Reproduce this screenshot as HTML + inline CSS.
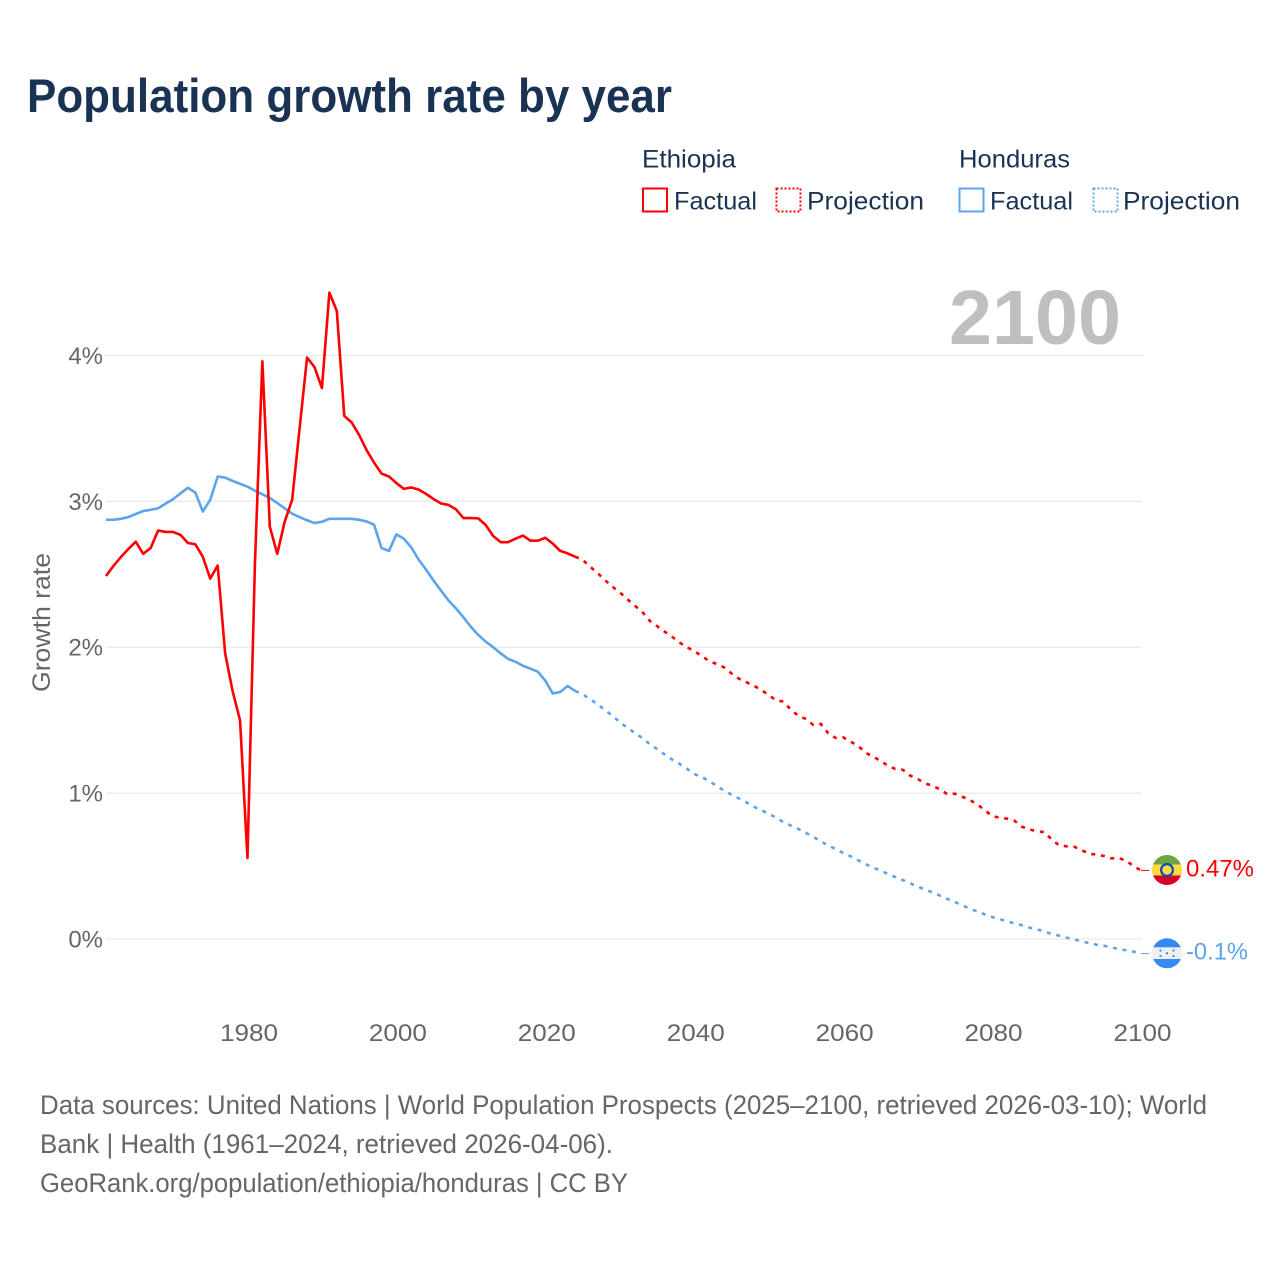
<!DOCTYPE html>
<html lang="en">
<head>
<meta charset="utf-8">
<title>Population growth rate by year</title>
<style>
html,body{margin:0;padding:0;background:#fff;}
svg{display:block;font-family:"Liberation Sans",sans-serif;}
</style>
</head>
<body>
<svg id="chart" xmlns="http://www.w3.org/2000/svg" width="1280" height="1280" viewBox="0 0 1280 1280">
  <rect x="0" y="0" width="1280" height="1280" fill="#ffffff"/>
  <text x="27" y="112" font-size="47" font-weight="700" fill="#1a3355" textLength="645" lengthAdjust="spacingAndGlyphs">Population growth rate by year</text>

  <g font-size="25" fill="#1a3355">
    <text x="642" y="167.5" textLength="94" lengthAdjust="spacingAndGlyphs">Ethiopia</text>
    <rect x="643" y="188.5" width="24" height="23" fill="none" stroke="#ff0000" stroke-width="2"/>
    <text x="674" y="209.5" textLength="83" lengthAdjust="spacingAndGlyphs">Factual</text>
    <rect x="776.5" y="188.5" width="24" height="23" fill="none" stroke="#ff0000" stroke-width="2" stroke-dasharray="2 2"/>
    <text x="807" y="209.5" textLength="117" lengthAdjust="spacingAndGlyphs">Projection</text>
    <text x="959" y="167.5" textLength="111" lengthAdjust="spacingAndGlyphs">Honduras</text>
    <rect x="959.5" y="188.5" width="24" height="23" fill="none" stroke="#5ba4ee" stroke-width="2"/>
    <text x="990" y="209.5" textLength="83" lengthAdjust="spacingAndGlyphs">Factual</text>
    <rect x="1093.5" y="188.5" width="24" height="23" fill="none" stroke="#5ba4ee" stroke-width="2" stroke-dasharray="2 2"/>
    <text x="1123" y="209.5" textLength="117" lengthAdjust="spacingAndGlyphs">Projection</text>
  </g>

  <g id="grid"></g>
  <text x="949" y="344" font-size="77" font-weight="700" fill="#bfbfbf" textLength="172" lengthAdjust="spacingAndGlyphs">2100</text>
  <g id="y-ticks"></g>
  <g id="x-ticks"></g>
  <text transform="translate(50,622.5) rotate(-90)" text-anchor="middle" font-size="25" fill="#666666" textLength="139" lengthAdjust="spacingAndGlyphs">Growth rate</text>
  <g id="series"></g>

  <defs>
    <clipPath id="clip-eth"><circle cx="1167" cy="870" r="15"/></clipPath>
    <clipPath id="clip-hon"><circle cx="1167" cy="953.3" r="15"/></clipPath>
  </defs>
  <g id="flag-ethiopia" clip-path="url(#clip-eth)">
    <rect x="1150" y="853" width="34" height="12" fill="#6da544"/>
    <rect x="1150" y="864.5" width="34" height="11.5" fill="#ffda44"/>
    <rect x="1150" y="875.5" width="34" height="12" fill="#d80027"/>
    <circle cx="1167" cy="870" r="7" fill="#0052b4"/>
    <circle cx="1167" cy="870" r="4.8" fill="#ffda44"/>
  </g>
  <g id="flag-honduras" clip-path="url(#clip-hon)">
    <rect x="1150" y="936" width="34" height="12" fill="#338af3"/>
    <rect x="1150" y="947.3" width="34" height="12" fill="#f0f0f0"/>
    <rect x="1150" y="959" width="34" height="12" fill="#338af3"/>
    <circle cx="1167" cy="953.3" r="1.2" fill="#338af3"/>
    <circle cx="1160.5" cy="950.5" r="1.1" fill="#338af3"/>
    <circle cx="1173.5" cy="950.5" r="1.1" fill="#338af3"/>
    <circle cx="1160.5" cy="956" r="1.1" fill="#338af3"/>
    <circle cx="1173.5" cy="956" r="1.1" fill="#338af3"/>
  </g>
  <g id="end-labels"></g>

  <g font-size="26.5" fill="#666666">
    <text x="40" y="1114" textLength="1167" lengthAdjust="spacingAndGlyphs">Data sources: United Nations | World Population Prospects (2025–2100, retrieved 2026-03-10); World</text>
    <text x="40" y="1153" textLength="573" lengthAdjust="spacingAndGlyphs">Bank | Health (1961–2024, retrieved 2026-04-06).</text>
    <text x="40" y="1192" textLength="588" lengthAdjust="spacingAndGlyphs">GeoRank.org/population/ethiopia/honduras | CC BY</text>
  </g>
</svg>
<script>
const firstFactualYear = 1961;
const firstProjectionYear = 2025;
const yTickValues = [0, 1, 2, 3, 4];
const yTickLabels = ["0%", "1%", "2%", "3%", "4%"];
const xTickValues = [1980, 2000, 2020, 2040, 2060, 2080, 2100];
const xTickLabels = ["1980", "2000", "2020", "2040", "2060", "2080", "2100"];
const ethiopiaFactual = [2.488,2.557,2.618,2.673,2.723,2.64,2.68,2.80,2.79,2.79,2.77,2.714,2.705,2.62,2.47,2.56,1.958,1.70,1.50,0.555,2.57,3.96,2.826,2.64,2.86,3.01,3.5,3.985,3.92,3.776,4.43,4.304,3.585,3.54,3.454,3.35,3.265,3.19,3.17,3.125,3.085,3.095,3.08,3.05,3.015,2.985,2.975,2.945,2.885,2.885,2.883,2.837,2.762,2.72,2.72,2.744,2.765,2.73,2.73,2.75,2.71,2.66,2.643,2.62];
const ethiopiaProjection = [2.60,2.552,2.51,2.46,2.415,2.376,2.33,2.285,2.243,2.182,2.145,2.107,2.072,2.033,2.0,1.974,1.94,1.905,1.885,1.862,1.82,1.784,1.76,1.736,1.707,1.672,1.636,1.627,1.57,1.53,1.508,1.467,1.474,1.41,1.378,1.382,1.352,1.325,1.277,1.25,1.222,1.188,1.165,1.16,1.12,1.097,1.067,1.05,1.026,0.992,0.996,0.975,0.953,0.923,0.884,0.843,0.831,0.825,0.811,0.77,0.752,0.738,0.733,0.683,0.642,0.635,0.633,0.61,0.585,0.578,0.569,0.553,0.555,0.537,0.50,0.47];
const hondurasFactual = [2.874,2.873,2.88,2.892,2.913,2.933,2.942,2.952,2.984,3.014,3.054,3.093,3.06,2.93,3.01,3.17,3.162,3.14,3.12,3.10,3.073,3.048,3.023,2.988,2.952,2.915,2.892,2.87,2.851,2.86,2.88,2.88,2.88,2.88,2.873,2.862,2.84,2.68,2.66,2.773,2.744,2.684,2.60,2.53,2.456,2.387,2.32,2.266,2.205,2.14,2.084,2.038,2.0,1.958,1.92,1.90,1.873,1.853,1.832,1.77,1.683,1.693,1.734,1.70];
const hondurasProjection = [1.677,1.645,1.61,1.57,1.53,1.487,1.448,1.414,1.378,1.337,1.302,1.266,1.231,1.201,1.167,1.131,1.11,1.083,1.049,1.018,0.989,0.964,0.937,0.907,0.884,0.858,0.832,0.80,0.777,0.754,0.727,0.70,0.67,0.64,0.617,0.59,0.567,0.54,0.514,0.49,0.47,0.446,0.425,0.404,0.382,0.36,0.339,0.319,0.297,0.274,0.254,0.23,0.208,0.189,0.169,0.151,0.137,0.121,0.107,0.094,0.078,0.066,0.053,0.034,0.023,0.009,-0.002,-0.016,-0.027,-0.039,-0.046,-0.057,-0.069,-0.077,-0.087,-0.1];
const ethiopiaEndLabel = "0.47%";
const hondurasEndLabel = "-0.1%";

const NS = 'http://www.w3.org/2000/svg';
const xScale = function (year) { return 106 + (year - 1961) * 7.446; };
const yScale = function (value) { return 939 - value * 145.9; };

function svgEl(tag, parent) {
  const el = document.createElementNS(NS, tag);
  parent.appendChild(el);
  return el;
}

const gridGroup = document.getElementById('grid');
const yTickGroup = document.getElementById('y-ticks');
yTickValues.forEach(function (v, i) {
  const gl = svgEl('line', gridGroup);
  
  
  gl.setAttribute('x1', 106);
  gl.setAttribute('x2', 1142);
  gl.setAttribute('y1', yScale(v));
  gl.setAttribute('y2', yScale(v));
  gl.setAttribute('stroke', '#e9e9e9');
  gl.setAttribute('stroke-width', '1.3');
  const t = svgEl('text', yTickGroup);
  
  
  t.setAttribute('x', 103);
  t.setAttribute('y', yScale(v) + 8.5);
  t.setAttribute('text-anchor', 'end');
  t.setAttribute('font-size', '24');
  t.setAttribute('fill', '#666666');
  t.textContent = yTickLabels[i];
});

const xTickGroup = document.getElementById('x-ticks');
xTickValues.forEach(function (v, i) {
  const t = svgEl('text', xTickGroup);
  
  
  t.setAttribute('x', xScale(v) + 1.5);
  t.setAttribute('y', 1041);
  t.setAttribute('text-anchor', 'middle');
  t.setAttribute('font-size', '24');
  t.setAttribute('fill', '#666666');
  t.setAttribute('textLength', '58');
  t.setAttribute('lengthAdjust', 'spacingAndGlyphs');
  t.textContent = xTickLabels[i];
});

function pathFrom(startYear, values) {
  return values.map(function (v, i) {
    return (i ? 'L' : 'M') + xScale(startYear + i).toFixed(2) + ' ' + yScale(v).toFixed(2);
  }).join(' ');
}

const seriesGroup = document.getElementById('series');

const hondurasFactualLine = svgEl('path', seriesGroup);


hondurasFactualLine.setAttribute('d', pathFrom(firstFactualYear, hondurasFactual));
hondurasFactualLine.setAttribute('fill', 'none');
hondurasFactualLine.setAttribute('stroke', '#5ba4ee');
hondurasFactualLine.setAttribute('stroke-width', '2.6');
hondurasFactualLine.setAttribute('stroke-linejoin', 'round');

const hondurasProjectionLine = svgEl('path', seriesGroup);


hondurasProjectionLine.setAttribute('d', pathFrom(firstProjectionYear - 1, [hondurasFactual[hondurasFactual.length - 1]].concat(hondurasProjection)));
hondurasProjectionLine.setAttribute('fill', 'none');
hondurasProjectionLine.setAttribute('stroke', '#5ba4ee');
hondurasProjectionLine.setAttribute('stroke-width', '2.6');
hondurasProjectionLine.setAttribute('stroke-dasharray', '4 5.7');

const ethiopiaFactualLine = svgEl('path', seriesGroup);


ethiopiaFactualLine.setAttribute('d', pathFrom(firstFactualYear, ethiopiaFactual));
ethiopiaFactualLine.setAttribute('fill', 'none');
ethiopiaFactualLine.setAttribute('stroke', '#ff0000');
ethiopiaFactualLine.setAttribute('stroke-width', '2.6');
ethiopiaFactualLine.setAttribute('stroke-linejoin', 'round');

const ethiopiaProjectionLine = svgEl('path', seriesGroup);


ethiopiaProjectionLine.setAttribute('d', pathFrom(firstProjectionYear - 1, [ethiopiaFactual[ethiopiaFactual.length - 1]].concat(ethiopiaProjection)));
ethiopiaProjectionLine.setAttribute('fill', 'none');
ethiopiaProjectionLine.setAttribute('stroke', '#ff0000');
ethiopiaProjectionLine.setAttribute('stroke-width', '2.6');
ethiopiaProjectionLine.setAttribute('stroke-dasharray', '4 5.7');

const labelsGroup = document.getElementById('end-labels');
const lastEth = ethiopiaProjection[ethiopiaProjection.length - 1];
const lastHon = hondurasProjection[hondurasProjection.length - 1];

const ethConnector = svgEl('line', labelsGroup);


ethConnector.setAttribute('x1', xScale(2100));
ethConnector.setAttribute('x2', xScale(2100) + 8);
ethConnector.setAttribute('y1', yScale(lastEth));
ethConnector.setAttribute('y2', yScale(lastEth));
ethConnector.setAttribute('stroke', '#ff0000');
ethConnector.setAttribute('stroke-width', '1');

const honConnector = svgEl('line', labelsGroup);


honConnector.setAttribute('x1', xScale(2100));
honConnector.setAttribute('x2', xScale(2100) + 8);
honConnector.setAttribute('y1', yScale(lastHon));
honConnector.setAttribute('y2', yScale(lastHon));
honConnector.setAttribute('stroke', '#5ba4ee');
honConnector.setAttribute('stroke-width', '1');

const ethLabel = svgEl('text', labelsGroup);


ethLabel.setAttribute('x', 1186);
ethLabel.setAttribute('y', yScale(lastEth) + 6);
ethLabel.setAttribute('font-size', '24');
ethLabel.setAttribute('fill', '#ff0000');
ethLabel.setAttribute('textLength', '68');
ethLabel.setAttribute('lengthAdjust', 'spacingAndGlyphs');
ethLabel.textContent = ethiopiaEndLabel;

const honLabel = svgEl('text', labelsGroup);


honLabel.setAttribute('x', 1186);
honLabel.setAttribute('y', yScale(lastHon) + 6);
honLabel.setAttribute('font-size', '24');
honLabel.setAttribute('fill', '#5ba4ee');
honLabel.setAttribute('textLength', '62');
honLabel.setAttribute('lengthAdjust', 'spacingAndGlyphs');
honLabel.textContent = hondurasEndLabel;
</script>
</body>
</html>
